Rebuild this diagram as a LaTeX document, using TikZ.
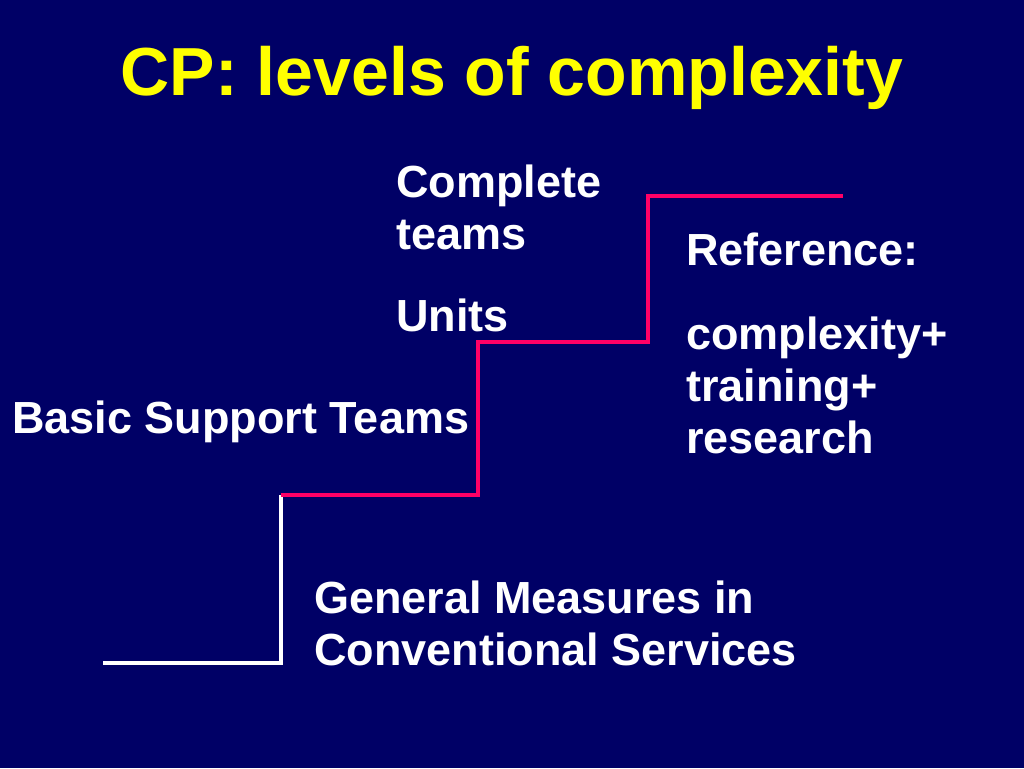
\documentclass[tikz,border=0pt]{standalone}
\usepackage{fontspec}
\setmainfont{Liberation Sans}
\definecolor{slidebg}{RGB}{0,0,102}
\definecolor{stairpink}{RGB}{255,0,102}
\definecolor{titleyellow}{RGB}{255,255,0}
\tikzset{
  slidetext/.style={text=white, font=\fontsize{33.75}{39}\selectfont\bfseries,
                    align=left, anchor=base west, inner sep=0pt},
  slidetitle/.style={text=titleyellow, font=\fontsize{51}{60}\selectfont\bfseries,
                     anchor=base, inner sep=0pt},
  whitestep/.style={draw=white, line width=3pt},
  pinkstep/.style={draw=stairpink, line width=3.6pt},
}

\begin{document}
\begin{tikzpicture}[
    x=0.75pt,
    y=-0.75pt,
  ]
    % Slide background
    \fill[slidebg] (0,0) rectangle (1024,768);

    % Title
    \node[slidetitle] (title) at (512,95) {CP: levels of complexity};

    % Staircase corners
    \coordinate (s0) at (103,663);
    \coordinate (s1) at (281,663);
    \coordinate (s2) at (281,495);
    \coordinate (s3) at (478,495);
    \coordinate (s4) at (478,342);
    \coordinate (s5) at (648,342);
    \coordinate (s6) at (648,196);
    \coordinate (s7) at (843,196);

    % Steps
    \draw[whitestep] (s0) -- (s1) -- (s2);
    \draw[pinkstep] (s2) -- (s3) -- (s4) -- (s5) -- (s6) -- (s7);

    % Level labels (multi-line nodes sit on their last line)
    \node[slidetext] (general) at (314,665) {General Measures in\\Conventional Services};
    \node[slidetext] (basic) at (12,433) {Basic Support Teams};
    \node[slidetext] (units) at (396,331) {Units};
    \node[slidetext] (complete) at (396,249) {Complete\\teams};
    \node[slidetext] (reference) at (686,265) {Reference:};
    \node[slidetext] (refitems) at (686,453) {complexity+\\training+\\research};
  \end{tikzpicture}
\end{document}
